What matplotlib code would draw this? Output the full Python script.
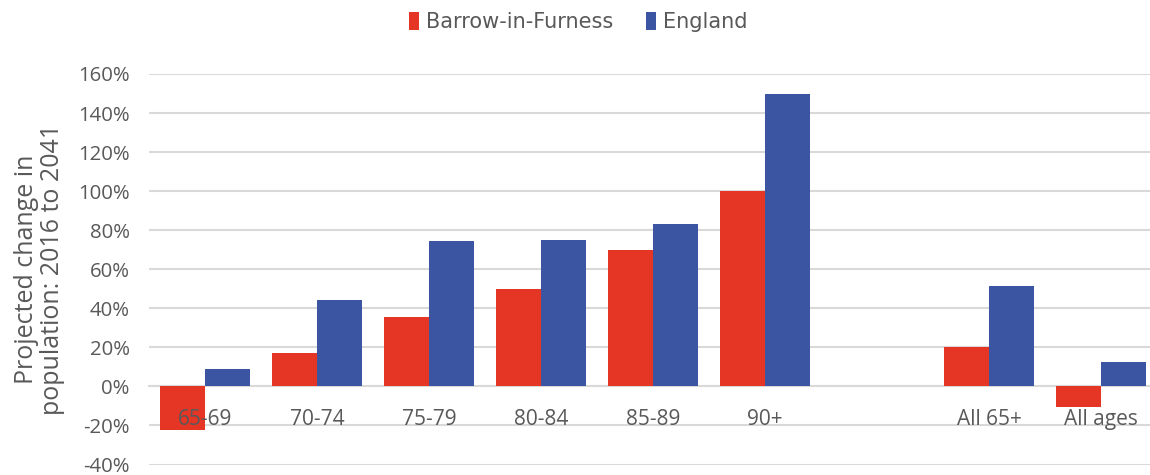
import numpy as np
import matplotlib
matplotlib.use("Agg")
import matplotlib.pyplot as plt
from matplotlib.ticker import FuncFormatter

# Data
categories = ["65-69", "70-74", "75-79", "80-84", "85-89", "90+", "", "All 65+", "All ages"]
barrow = [-22.5, 16.9, 35.8, 50.0, 70.0, 100.0, np.nan, 20.0, -10.7]
england = [8.7, 44.5, 74.6, 75.2, 83.3, 150.0, np.nan, 51.6, 12.3]
series_names = ["Barrow-in-Furness", "England"]

red = "#E53524"
blue = "#3B55A2"
text_col = "#595959"
grid_col = "#D9D9D9"

plt.rcParams['font.family'] = ['Open Sans', 'DejaVu Sans']

fig = plt.figure(figsize=(11.5, 4.75), dpi=100)
ax = fig.add_axes([149 / 1150, 10.5 / 475, 1 - 149 / 1150, 390.5 / 475])

x = np.arange(len(categories))
w = 0.398
ax.bar(x - w / 2, barrow, width=w, color=red, label=series_names[0], zorder=3)
ax.bar(x + w / 2, england, width=w, color=blue, label=series_names[1], zorder=3)

ax.set_ylim(-40, 160)
ax.set_yticks(np.arange(-40, 161, 20))
ax.yaxis.set_major_formatter(FuncFormatter(lambda v, p: f"{v:.0f}%"))
ax.set_xlim(-0.5, (1150 - 149) / 112 - 0.5)

ax.grid(axis='y', color=grid_col, linewidth=1.5)
ax.yaxis.set_zorder(0.5)
ax.xaxis.set_zorder(5)
for s in ['top', 'right', 'left']:
    ax.spines[s].set_visible(False)
ax.spines['bottom'].set_position(('data', 0))
ax.spines['bottom'].set_color(grid_col)
ax.spines['bottom'].set_linewidth(1.5)
ax.spines['bottom'].set_zorder(2)

ax.set_xticks(x)
ax.set_xticklabels(categories)
ax.tick_params(axis='x', length=0, pad=16, labelsize=15, labelcolor=text_col)
ax.tick_params(axis='y', length=0, pad=14, labelsize=14.7, labelcolor=text_col)

ax.set_ylabel("Projected change in\npopulation: 2016 to 2041", fontsize=18,
              color=text_col, labelpad=9, linespacing=1.1)

leg = fig.legend(loc='upper center', bbox_to_anchor=(0.503, 1.015), ncol=2, frameon=False,
                 prop={'family': ['Liberation Sans Narrow', 'DejaVu Sans'], 'size': 15},
                 handlelength=0.45, handleheight=1.0, handletextpad=0.35, columnspacing=1.6)
for t in leg.get_texts():
    t.set_color(text_col)

fig.savefig("out.png", dpi=100)
